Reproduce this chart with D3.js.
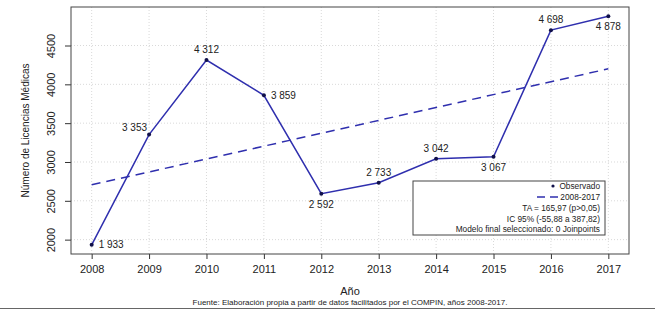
<!DOCTYPE html>
<html><head><meta charset="utf-8">
<script src="https://cdn.jsdelivr.net/npm/d3@7"></script>
<style>body{margin:0;background:#fff}text{font-family:"Liberation Sans",Arial,sans-serif}</style>
</head><body><svg id="c" width="660" height="314"></svg>
<script>
const years = [2008,2009,2010,2011,2012,2013,2014,2015,2016,2017];
const observed = [1933,3353,4312,3859,2592,2733,3042,3067,4698,4878];
const labelPos = ["right","upleft","above","right","below","above","above","below","above","below"];
const yTicks = [2000,2500,3000,3500,4000,4500];
const trendYears = [2008,2017];
const trendStart = 2706;
const trendSlope = 165.97;
const legendLines = ["TA = 165,97 (p>0,05)","IC 95% (-55,88 a 387,82)","Modelo final seleccionado: 0 Joinpoints"];

const svg = d3.select("#c");
const L=71, R=629, T=7, B=254;
const x = d3.scaleLinear().domain([2007.64,2017.36]).range([L,R]);
const y = d3.scaleLinear().domain([1815,4996]).range([B,T]);
const lineCol = "#2f2fae", ptCol = "#10104a";

// grid
svg.append("g").selectAll("line").data(years).join("line")
  .attr("x1",d=>x(d)).attr("x2",d=>x(d)).attr("y1",T).attr("y2",B)
  .attr("stroke","#d9d9d9").attr("stroke-dasharray","1,2");
svg.append("g").selectAll("line").data(yTicks).join("line")
  .attr("x1",L).attr("x2",R).attr("y1",d=>y(d)).attr("y2",d=>y(d))
  .attr("stroke","#d9d9d9").attr("stroke-dasharray","1,2");

// axes
const xa = svg.append("g").attr("transform",`translate(0,${B})`)
  .call(d3.axisBottom(x).tickValues(years).tickFormat(d3.format("d")).tickSize(5).tickPadding(6));
xa.select(".domain").remove();
xa.selectAll("text").attr("font-size",11).attr("fill","#222");
xa.selectAll("line").attr("stroke","#333");
const ya = svg.append("g").attr("transform",`translate(${L},0)`)
  .call(d3.axisLeft(y).tickValues(yTicks).tickFormat(d3.format("d")).tickSize(6).tickPadding(0));
ya.select(".domain").remove();
ya.selectAll("line").attr("stroke","#333");
ya.selectAll("text").attr("font-size",11).attr("fill","#222")
  .attr("text-anchor","middle").attr("x",null).attr("y",0).attr("dy","0.35em")
  .attr("transform","translate(-20,0) rotate(-90)");

svg.append("rect").attr("x",L).attr("y",T).attr("width",R-L).attr("height",B-T)
  .attr("fill","none").attr("stroke","#444").attr("stroke-width",1);

// trend
const trend = trendYears.map(t=>[t, trendStart + trendSlope*(t-2008)]);
svg.append("path").attr("d",d3.line().x(d=>x(d[0])).y(d=>y(d[1]))(trend))
  .attr("fill","none").attr("stroke",lineCol).attr("stroke-width",1.5).attr("stroke-dasharray","9,6");

// observed
const data = years.map((t,i)=>({t,v:observed[i],p:labelPos[i]}));
svg.append("path").attr("d",d3.line().x(d=>x(d.t)).y(d=>y(d.v))(data))
  .attr("fill","none").attr("stroke",lineCol).attr("stroke-width",1.5);
svg.append("g").selectAll("circle").data(data).join("circle")
  .attr("cx",d=>x(d.t)).attr("cy",d=>y(d.v)).attr("r",2).attr("fill",ptCol);
const fmt = v => String(v).replace(/(\d)(\d{3})$/,"$1 $2");
svg.append("g").selectAll("text").data(data).join("text")
  .attr("font-size",10).attr("fill","#222")
  .attr("x",d=>d.p==="right"?x(d.t)+7:d.p==="upleft"?x(d.t)-2:x(d.t))
  .attr("y",d=>d.p==="above"?y(d.v)-7:d.p==="below"?y(d.v)+14:d.p==="upleft"?y(d.v)-4:y(d.v)+3.5)
  .attr("text-anchor",d=>d.p==="right"?"start":d.p==="upleft"?"end":"middle")
  .text(d=>fmt(d.v));

// legend
const lg = svg.append("g");
lg.append("rect").attr("x",413).attr("y",181).attr("width",192).attr("height",54)
  .attr("fill","#fff").attr("stroke","#444");
const tx = 600;
lg.append("circle").attr("cx",553).attr("cy",186).attr("r",1.6).attr("fill",ptCol);
lg.append("text").attr("x",tx).attr("y",189).attr("text-anchor","end").attr("font-size",8.3).attr("fill","#222").text("Observado");
lg.append("line").attr("x1",537).attr("x2",562).attr("y1",197).attr("y2",197)
  .attr("stroke",lineCol).attr("stroke-width",1.5).attr("stroke-dasharray","8,5");
lg.append("text").attr("x",tx).attr("y",200).attr("text-anchor","end").attr("font-size",8.3).attr("fill","#222").text("2008-2017");
legendLines.forEach((s,i)=>lg.append("text").attr("x",tx).attr("y",211+i*10.5)
  .attr("text-anchor","end").attr("font-size",8.3).attr("fill","#222").text(s));

// titles
svg.append("text").attr("x",(L+R)/2).attr("y",295).attr("text-anchor","middle").attr("font-size",11).attr("fill","#222").text("Año");
svg.append("text").attr("transform",`translate(29,${(T+B)/2}) rotate(-90)`).attr("text-anchor","middle")
  .attr("font-size",10).attr("fill","#222").text("Número de Licencias Médicas");
svg.append("text").attr("x",(L+R)/2).attr("y",305).attr("text-anchor","middle").attr("font-size",8).attr("fill","#222")
  .text("Fuente: Elaboración propia a partir de datos facilitados por el COMPIN, años 2008-2017.");
svg.append("line").attr("x1",0).attr("x2",655).attr("y1",308.5).attr("y2",308.5).attr("stroke","#666");
</script></body></html>
